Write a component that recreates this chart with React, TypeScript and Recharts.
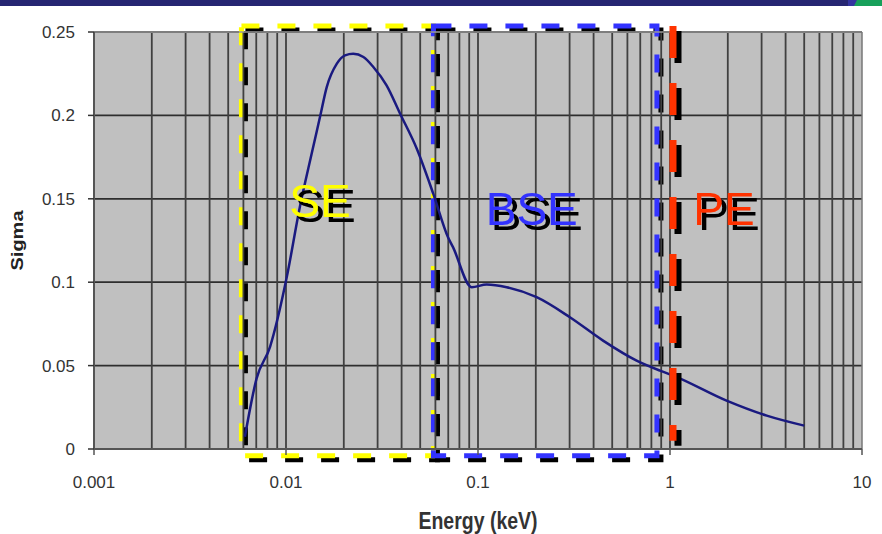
import React from 'react';
import {
  LineChart,
  Line,
  XAxis,
  YAxis,
  CartesianGrid,
  ReferenceArea,
  ReferenceLine,
  ReferenceDot,
} from 'recharts';

// ---- data ----
const energy = [
  0.00611, 0.00703, 0.00826, 0.0101, 0.0118, 0.0136, 0.01503, 0.0163, 0.0184, 0.0203,
  0.0224, 0.0253, 0.0285, 0.0334, 0.0393, 0.048, 0.0585, 0.0698, 0.0741, 0.0927,
  0.111, 0.141, 0.202, 0.301, 0.448, 0.67, 0.887, 1.04, 1.97, 3.19, 5.0,
];
const sigma = [
  0.0074, 0.0423, 0.0613, 0.1032, 0.145, 0.177, 0.199, 0.217, 0.231, 0.236,
  0.2369, 0.235, 0.229, 0.218, 0.201, 0.18, 0.153, 0.127, 0.121, 0.097,
  0.0986, 0.097, 0.091, 0.079, 0.065, 0.053, 0.047, 0.044, 0.029, 0.02, 0.014,
];
const xTicks = [0.001, 0.01, 0.1, 1, 10];
const yTicks = [0, 0.05, 0.1, 0.15, 0.2, 0.25];
const gridDecades = [0.001, 0.01, 0.1, 1];
const gridMultipliers = [1, 2, 3, 4, 5, 6, 7, 8, 9];

// region annotations (data coordinates)
const regionNames = ['SE', 'BSE', 'PE'];
const regionLabelEnergy = [0.01503, 0.1906, 1.91];
const regionLabelSigma = [0.1391, 0.1341, 0.1341];
const seRange = [0.00586, 0.0586];
const bseRange = [0.0586, 0.855];
const peEnergy = 1.0366;
const boxSigma = [-0.004, 0.2536];
const peSigma = [0.2536, 0.005];

const data = energy.map((e, i) => ({ energy: e, sigma: sigma[i] }));
const vGrid = gridDecades
  .flatMap((d) => gridMultipliers.map((m) => +(d * m).toPrecision(6)))
  .filter((v) => v > 0.001);

const FONT = '"Liberation Sans", Arial, Helvetica, sans-serif';
const regionColors = ['#ffff00', '#3333ff', '#ff3300'];

const makeBox = (color: string) => (p: any) => {
  const { x, y, width, height } = p;
  return (
    <g>
      <rect x={x + 4} y={y + 4} width={width} height={height} fill="none" stroke="#000" strokeWidth={5} strokeDasharray="18 18" />
      <rect x={x} y={y} width={width} height={height} fill="none" stroke={color} strokeWidth={5} strokeDasharray="18 18" />
    </g>
  );
};

const redLine = (p: any) => (
  <g>
    <line x1={p.x1 + 5} y1={p.y1 + 5} x2={p.x2 + 5} y2={p.y2 + 5} stroke="#000" strokeWidth={7} strokeDasharray="32 25" />
    <line x1={p.x1} y1={p.y1} x2={p.x2} y2={p.y2} stroke="#ff3300" strokeWidth={7} strokeDasharray="32 25" />
  </g>
);

const makeLabel = (text: string, color: string) => (p: any) => (
  <text
    x={p.cx}
    y={p.cy}
    textAnchor="middle"
    fontSize={46}
    fontFamily={FONT}
    fill={color}
    filter="url(#txtShadow)"
  >
    {text}
  </text>
);

export default function App() {
  return (
    <div style={{ position: 'absolute', left: 0, top: 0, width: 882, height: 534, background: '#fff', overflow: 'hidden' }}>
      <svg width={882} height={8} style={{ position: 'absolute', left: 0, top: 0 }}>
        <rect x={0} y={0} width={882} height={6} fill="#262672" />
        <rect x={848} y={0} width={10} height={6} fill="#3434a0" />
        <polygon points="857,0 882,0 882,6 854,6" fill="#17a05a" />
      </svg>
      <LineChart
        width={882}
        height={534}
        data={data}
        margin={{ top: 32, right: 20, bottom: 0, left: 0 }}
        style={{ position: 'absolute', left: 0, top: 0 }}
      >
        <defs>
          <filter id="txtShadow" x="-20%" y="-20%" width="150%" height="150%">
            <feDropShadow dx={5} dy={5} stdDeviation={0} floodColor="#000" floodOpacity={1} />
          </filter>
        </defs>
        <CartesianGrid fill="#c0c0c0" stroke="#2e2e2e" strokeWidth={1.8} vertical={false} />
        <XAxis
          dataKey="energy"
          type="number"
          scale="log"
          domain={[0.001, 10]}
          ticks={xTicks}
          allowDataOverflow
          tickFormatter={(v: number) => String(v)}
          height={85}
          tickSize={6}
          tickMargin={21}
          axisLine={{ stroke: '#555', strokeWidth: 2 }}
          tickLine={{ stroke: '#555', strokeWidth: 1.5 }}
          tick={{ fill: '#333', fontSize: 17, fontFamily: FONT }}
          label={{
            content: (props: any) => {
              const vb = props.viewBox || { x: 94, y: 449, width: 768, height: 85 };
              return (
                <text
                  transform={`translate(${vb.x + vb.width / 2}, ${vb.y + 80}) scale(1, 1.2)`}
                  textAnchor="middle"
                  fontSize={19.5}
                  fontWeight="bold"
                  fontFamily={FONT}
                  fill="#333"
                >
                  Energy (keV)
                </text>
              );
            },
          }}
        />
        <YAxis
          type="number"
          domain={[0, 0.25]}
          ticks={yTicks}
          width={94}
          tickSize={6}
          tickMargin={13}
          tickFormatter={(v: number) => String(v)}
          axisLine={{ stroke: '#555', strokeWidth: 2 }}
          tickLine={{ stroke: '#333', strokeWidth: 1.5 }}
          tick={{ fill: '#333', fontSize: 17, fontFamily: FONT }}
          label={{
            content: (props: any) => {
              const vb = props.viewBox || { x: 0, y: 32, width: 94, height: 417 };
              return (
                <text
                  transform={`translate(18, ${vb.y + vb.height / 2}) rotate(-90) scale(1.25, 1)`}
                  textAnchor="middle"
                  dominantBaseline="central"
                  fontSize={16}
                  fontWeight="bold"
                  fontFamily={FONT}
                  fill="#222"
                >
                  Sigma
                </text>
              );
            },
          }}
        />
        {vGrid.map((v) => (
          <ReferenceLine key={'g' + v} x={v} stroke="#404040" strokeWidth={1.8} />
        ))}
        <ReferenceLine y={0.25} stroke="#9a9a9a" strokeWidth={1.5} />
        <ReferenceLine x={10} stroke="#777" strokeWidth={1.5} />
        <Line
          type="monotone"
          dataKey="sigma"
          stroke="#1a1a80"
          strokeWidth={2.5}
          dot={false}
          isAnimationActive={false}
        />
        <ReferenceArea
          x1={seRange[0]}
          x2={seRange[1]}
          y1={boxSigma[0]}
          y2={boxSigma[1]}
          ifOverflow="visible"
          shape={makeBox(regionColors[0])}
        />
        <ReferenceArea
          x1={bseRange[0]}
          x2={bseRange[1]}
          y1={boxSigma[0]}
          y2={boxSigma[1]}
          ifOverflow="visible"
          shape={makeBox(regionColors[1])}
        />
        <ReferenceLine
          segment={[
            { x: peEnergy, y: peSigma[0] },
            { x: peEnergy, y: peSigma[1] },
          ]}
          ifOverflow="visible"
          shape={redLine}
        />
        {regionNames.map((name, i) => (
          <ReferenceDot
            key={name}
            x={regionLabelEnergy[i]}
            y={regionLabelSigma[i]}
            ifOverflow="visible"
            shape={makeLabel(name, regionColors[i])}
          />
        ))}
      </LineChart>
    </div>
  );
}
